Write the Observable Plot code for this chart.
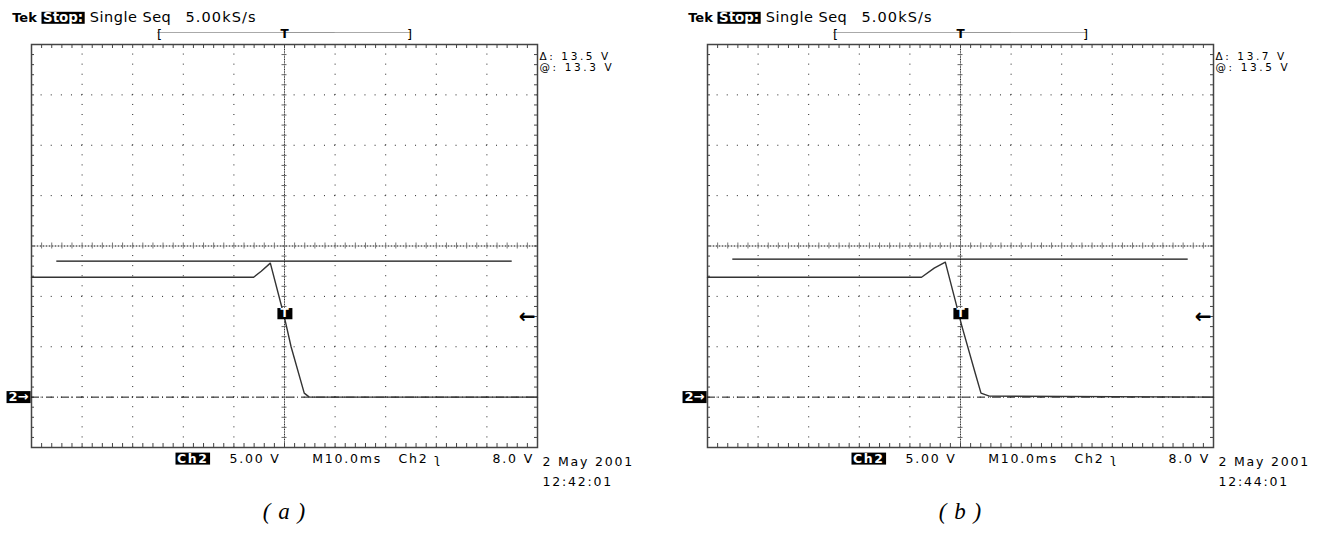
<!DOCTYPE html>
<html><head><meta charset="utf-8">
<script src="https://cdn.jsdelivr.net/npm/d3@7"></script>
<script src="https://cdn.jsdelivr.net/npm/@observablehq/plot@0.6"></script>
<style>
body{margin:0;background:#fff;}
#wrap{display:flex;width:1324px;height:537px;overflow:hidden;}
svg{display:block;}
</style></head><body><div id="wrap"></div>
<script>
// ---------- data ----------
const panels = ["a", "b"];
const captions = ["( a )", "( b )"];
const timeRange = [-50, 50];          // ms, 10 div x 10.0 ms
const voltRange = [-5, 35];           // V, 8 div x 5.00 V (ground one div above bottom)
const timeMajor = [-50, -40, -30, -20, -10, 0, 10, 20, 30, 40, 50];
const voltMajor = [-5, 0, 5, 10, 15, 20, 25, 30, 35];
const timeMinor = d3.range(-50, 50.001, 2);
const voltMinor = d3.range(-5, 35.001, 1);
const centerTime = 0;
const centerVolt = 15;

// Ch2 traces (ms, V)
const traceT = [
  [-50, -6.1, -4.6, -2.8, 0.0, 1.3, 3.9, 4.9, 50],
  [-50, -7.7, -5.2, -3.0, 0.3, 2.9, 4.05, 5.7, 50]
];
const traceV = [
  [11.9, 11.9, 12.5, 13.3, 7.9, 5.0, 0.4, 0.0, 0.0],
  [11.9, 11.9, 12.8, 13.4, 7.0, 2.4, 0.4, 0.1, 0.0]
];
const cursorLevel = [13.5, 13.7];
const cursorSpan = [-45, 45];
const groundLevel = 0;
const triggerLevel = 8.0;
const triggerTime = 0;
const recordWindow = [-25, 25];

// texts
const headerTek = "Tek";
const headerState = "Stop:";
const headerMode = "Single Seq";
const headerRate = "5.00kS/s";
const readDelta = ["\u0394: 13.5 V", "\u0394: 13.7 V"];
const readAt = ["@: 13.3 V", "@: 13.5 V"];
const bottomCh = "Ch2";
const bottomScale = "5.00 V";
const bottomTime = "M10.0ms";
const bottomTrig = "Ch2 \u0285";
const bottomLevel = "8.0 V";
const dates = ["2 May 2001", "2 May 2001"];
const clockTimes = ["12:42:01", "12:44:01"];
const groundLabel = "2\u2192";
const trigMarkLabel = "T";
const trigArrow = "\u2190";

// ---------- layout ----------
const H = 537, MT = 44, MB = 90, FW = 506;
const FH = H - MT - MB;
const msPerPx = (timeRange[1] - timeRange[0]) / FW;
const vPerPx = (voltRange[1] - voltRange[0]) / FH;

function makePanel(p, width, marginLeft) {
  const marginRight = width - marginLeft - FW;
  const tMin = timeRange[0], tMax = timeRange[1], vMin = voltRange[0], vMax = voltRange[1];
  const idx = d3.range(traceT[p].length);
  const innerH = voltMajor.filter(v => v !== vMin && v !== vMax && v !== centerVolt);
  const innerV = timeMajor.filter(t => t !== tMin && t !== tMax && t !== centerTime);
  const sans = "DejaVu Sans";
  const txt = (label, o) => Plot.text([label], {text: d => d, fontFamily: sans, lineAnchor: "bottom", ...o});
  return Plot.plot({
    width, height: H, marginLeft, marginRight, marginTop: MT, marginBottom: MB,
    x: {domain: timeRange, axis: null},
    y: {domain: voltRange, axis: null},
    style: {background: "white", overflow: "visible"},
    marks: [
      // graticule dots
      Plot.ruleY(innerH, {stroke: "#222", strokeWidth: 1, strokeDasharray: `1,${(2 / msPerPx - 1).toFixed(3)}`, strokeDashoffset: 0.5}),
      Plot.ruleX(innerV, {stroke: "#222", strokeWidth: 1, strokeDasharray: `1,${(1 / vPerPx - 1).toFixed(3)}`, strokeDashoffset: 0.5}),
      // centre cross
      Plot.ruleX([centerTime], {stroke: "#aaa", strokeWidth: 1}),
      Plot.ruleY([centerVolt], {stroke: "#aaa", strokeWidth: 1}),
      Plot.ruleX([centerTime], {stroke: "#333", strokeWidth: 1, strokeDasharray: "1,1.5"}),
      Plot.ruleY([centerVolt], {stroke: "#333", strokeWidth: 1, strokeDasharray: "1,2"}),
      Plot.ruleY(voltMinor, {x1: centerTime - 2.5 * msPerPx, x2: centerTime + 2.5 * msPerPx, stroke: "#666"}),
      Plot.ruleX(timeMinor, {y1: centerVolt - 3 * vPerPx, y2: centerVolt + 3 * vPerPx, stroke: "#777"}),
      // border ticks
      Plot.ruleX(timeMinor, {y1: vMax, y2: vMax - 4 * vPerPx, stroke: "#444"}),
      Plot.ruleX(timeMinor, {y1: vMin, y2: vMin + 4 * vPerPx, stroke: "#444"}),
      Plot.ruleY(voltMinor, {x1: tMin, x2: tMin + 3 * msPerPx, stroke: "#444"}),
      Plot.ruleY(voltMinor, {x1: tMax, x2: tMax - 3 * msPerPx, stroke: "#444"}),
      Plot.frame({stroke: "#444", strokeWidth: 1.5}),
      // ground cursor (dash-dot)
      Plot.ruleY([groundLevel], {stroke: "#111", strokeWidth: 1, strokeDasharray: "8,3,1,3"}),
      // upper cursor line
      Plot.ruleY([cursorLevel[p]], {x1: cursorSpan[0], x2: cursorSpan[1], stroke: "#111", strokeWidth: 1.3}),
      // trace
      Plot.line(idx, {x: i => traceT[p][i], y: i => traceV[p][i], stroke: "#333", strokeWidth: 1.4, curve: "linear"}),
      // trigger marker
      Plot.text([trigMarkLabel], {text: d => d, x: triggerTime, y: triggerLevel, dy: -3, fill: "white", fontFamily: sans, fontWeight: "bold", fontSize: 12, ariaDescription: "boxed pad3"}),
      Plot.text([trigArrow], {text: d => d, x: tMax, y: triggerLevel, dx: -2, textAnchor: "end", fill: "black", fontFamily: sans, fontWeight: "bold", fontSize: 20}),
      // ground marker
      Plot.text([groundLabel], {text: d => d, x: tMin, y: groundLevel, dx: -3, textAnchor: "end", fill: "white", fontFamily: sans, fontWeight: "bold", fontSize: 13, ariaDescription: "boxed pad2"}),
      // record window bracket
      Plot.ruleY([vMax], {x1: recordWindow[0], x2: recordWindow[1], dy: -12, stroke: "#555", strokeDasharray: "1,1"}),
      Plot.ruleY([vMax], {x1: triggerTime, x2: triggerTime + 10, dy: -12, stroke: "#999"}),
      Plot.text(["["], {text: d => d, x: recordWindow[0], y: vMax, dy: -6, lineAnchor: "bottom", textAnchor: "start", fontFamily: sans, fontSize: 13, dx: -1}),
      Plot.text(["]"], {text: d => d, x: recordWindow[1], y: vMax, dy: -6, lineAnchor: "bottom", textAnchor: "end", fontFamily: sans, fontSize: 13, dx: 1}),
      Plot.text(["T"], {text: d => d, x: triggerTime, y: vMax, dy: -7, lineAnchor: "bottom", fontFamily: sans, fontWeight: "bold", fontSize: 12}),
      // header
      txt(headerTek, {frameAnchor: "top-left", dx: -19.3, dy: -22.5, textAnchor: "start", fontWeight: "bold", fontSize: 13}),
      txt(headerState, {frameAnchor: "top-left", dx: 11.5, dy: -22.5, textAnchor: "start", fontWeight: "bold", fontSize: 13.4, fill: "white", ariaDescription: "boxed pad1.5"}),
      txt(headerMode, {frameAnchor: "top-left", dx: 58.3, dy: -22.5, textAnchor: "start", fontSize: 14.5, ariaDescription: "ls0.5"}),
      txt(headerRate, {frameAnchor: "top-left", dx: 154, dy: -22.5, textAnchor: "start", fontSize: 14.5, ariaDescription: "ls1.1"}),
      // readouts
      txt(readDelta[p], {frameAnchor: "top-right", dx: 2, dy: 15.5, textAnchor: "start", fontSize: 10.5, ariaDescription: "ls2.6"}),
      txt(readAt[p], {frameAnchor: "top-right", dx: 2, dy: 26.5, textAnchor: "start", fontSize: 10.5, ariaDescription: "ls2.6"}),
      // bottom status line
      txt(bottomCh, {frameAnchor: "bottom-left", dx: 145.5, dy: 15.3, textAnchor: "start", fontWeight: "bold", fontSize: 12.5, fill: "white", ariaDescription: "boxed ls1.6"}),
      txt(bottomScale, {frameAnchor: "bottom-left", dx: 198, dy: 15.3, textAnchor: "start", fontSize: 12.5, ariaDescription: "ls1.8"}),
      txt(bottomTime, {frameAnchor: "bottom-left", dx: 280.7, dy: 15.3, textAnchor: "start", fontSize: 12.5, ariaDescription: "ls1.8"}),
      txt(bottomTrig, {frameAnchor: "bottom-left", dx: 367, dy: 15.3, textAnchor: "start", fontSize: 12.5, ariaDescription: "ls1.8"}),
      txt(bottomLevel, {frameAnchor: "bottom-right", dx: -3.5, dy: 15.3, textAnchor: "end", fontSize: 12.5, ariaDescription: "ls1.8"}),
      txt(dates[p], {frameAnchor: "bottom-right", dx: 5, dy: 18, textAnchor: "start", fontSize: 12.5, ariaDescription: "ls1.8"}),
      txt(clockTimes[p], {frameAnchor: "bottom-right", dx: 5, dy: 38, textAnchor: "start", fontSize: 12.5, ariaDescription: "ls1.8"}),
      // caption
      Plot.text([captions[p]], {text: d => d, frameAnchor: "bottom", dy: 71, lineAnchor: "bottom", fontFamily: "Liberation Serif", fontStyle: "italic", fontSize: 23, ariaDescription: "ls1"})
    ]
  });
}

const wrap = document.getElementById("wrap");
wrap.append(makePanel(0, 676, 31));
wrap.append(makePanel(1, 648, 31));

// letter spacing and black label boxes
document.querySelectorAll("g[aria-description]").forEach(g => {
  const m = g.getAttribute("aria-description").match(/ls([\d.]+)/);
  if (m) g.style.letterSpacing = m[1] + "px";
});
document.querySelectorAll('g[aria-description~="boxed"] text').forEach(t => {
  const bb = t.getBBox();
  const desc = t.closest("g[aria-description]").getAttribute("aria-description");
  const pm = desc.match(/pad([\d.]+)/);
  const padX = pm ? +pm[1] : 1.5;
  const r = document.createElementNS("http://www.w3.org/2000/svg", "rect");
  const padT = bb.height * 0.12, padB = bb.height * 0.08;
  r.setAttribute("x", bb.x - padX);
  r.setAttribute("y", bb.y + padT);
  r.setAttribute("width", bb.width + 2 * padX);
  r.setAttribute("height", bb.height - padT - padB);
  r.setAttribute("fill", "black");
  r.setAttribute("stroke", "none");
  const tr = t.getAttribute("transform");
  if (tr) r.setAttribute("transform", tr);
  t.parentNode.insertBefore(r, t);
});
</script></body></html>
